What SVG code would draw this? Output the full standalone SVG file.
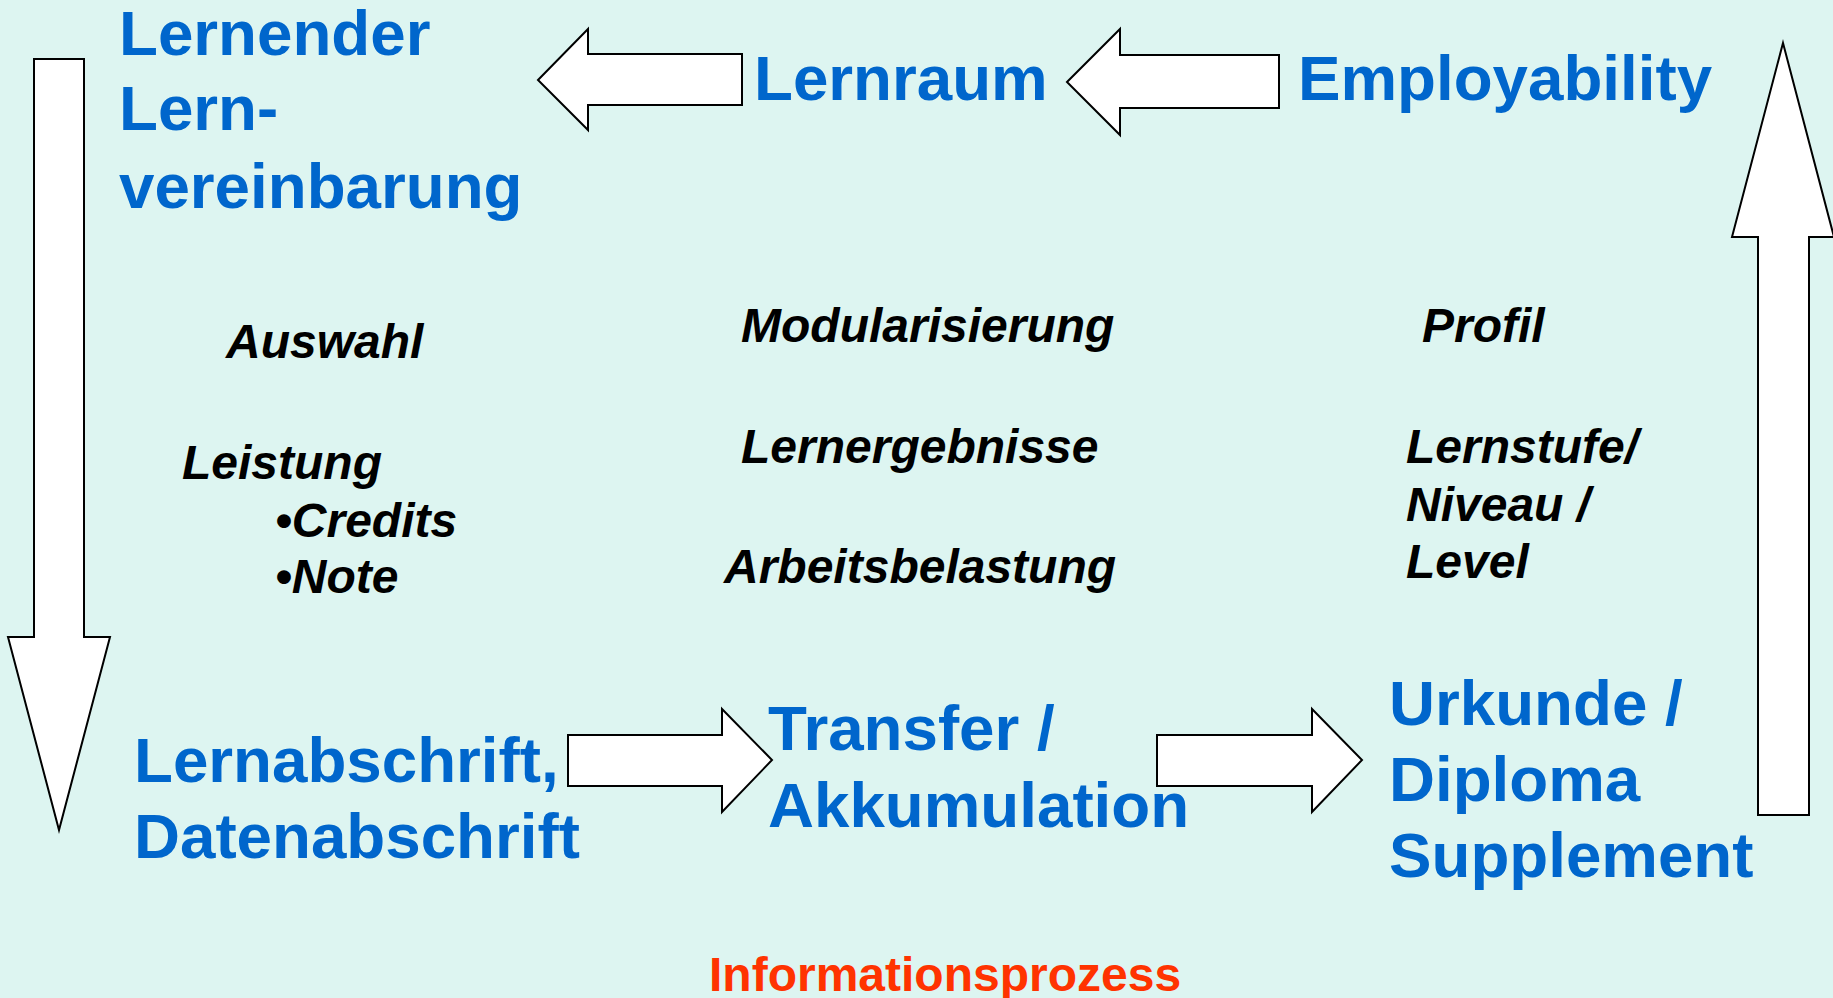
<svg xmlns="http://www.w3.org/2000/svg" width="1833" height="998" viewBox="0 0 1833 998">
<style>
.arrow{fill:#ffffff;stroke:#000000;stroke-width:2;stroke-linejoin:miter}
.blue{font-family:"Liberation Sans",Arial,sans-serif;font-weight:bold;font-size:63.7px;fill:#0066CC}
.black{font-family:"Liberation Sans",Arial,sans-serif;font-weight:bold;font-style:italic;font-size:48px;fill:#000000}
.red{font-family:"Liberation Sans",Arial,sans-serif;font-weight:bold;font-size:48px;fill:#FF3300}
</style>
<rect x="0" y="0" width="1833" height="998" fill="#DDF5F1"/>
<g id="connectors">
<polygon class="arrow" points="34,59 84,59 84,637 110,637 59,830 8,637 34,637"/>
<polygon class="arrow" points="1783,43 1834,237 1809,237 1809,815 1758,815 1758,237 1732,237"/>
<polygon class="arrow" points="538,80 588,29 588,54 742,54 742,105 588,105 588,130"/>
<polygon class="arrow" points="1067,82 1120,29 1120,55 1279,55 1279,108 1120,108 1120,135"/>
<polygon class="arrow" points="568,735 722,735 722,709 772,760 722,812 722,786 568,786"/>
<polygon class="arrow" points="1157,735 1312,735 1312,709 1362,760 1312,812 1312,786 1157,786"/>
</g>
<g id="node-lernender">
<text class="blue" x="119" y="55">Lernender</text>
<text class="blue" x="119" y="130">Lern-</text>
<text class="blue" x="119" y="208">vereinbarung</text>
</g>
<g id="node-lernraum">
<text class="blue" x="754" y="100">Lernraum</text>
</g>
<g id="node-employability">
<text class="blue" x="1298" y="100">Employability</text>
</g>
<g id="node-lernabschrift">
<text class="blue" x="134" y="782">Lernabschrift,</text>
<text class="blue" x="134" y="858">Datenabschrift</text>
</g>
<g id="node-transfer">
<text class="blue" x="768" y="750">Transfer /</text>
<text class="blue" x="768" y="827">Akkumulation</text>
</g>
<g id="node-urkunde">
<text class="blue" x="1389" y="725">Urkunde /</text>
<text class="blue" x="1389" y="801">Diploma</text>
<text class="blue" x="1389" y="877">Supplement</text>
</g>
<g id="col-left">
<text class="black" x="226" y="358">Auswahl</text>
<text class="black" x="182" y="479">Leistung</text>
<text class="black" x="275" y="537">•Credits</text>
<text class="black" x="275" y="593">•Note</text>
</g>
<g id="col-middle">
<text class="black" x="741" y="342">Modularisierung</text>
<text class="black" x="741" y="463">Lernergebnisse</text>
<text class="black" x="724" y="583">Arbeitsbelastung</text>
</g>
<g id="col-right">
<text class="black" x="1422" y="342">Profil</text>
<text class="black" x="1406" y="463">Lernstufe/</text>
<text class="black" x="1406" y="521">Niveau /</text>
<text class="black" x="1406" y="578">Level</text>
</g>
<g id="caption">
<text class="red" x="709" y="991">Informationsprozess</text>
</g>
</svg>
